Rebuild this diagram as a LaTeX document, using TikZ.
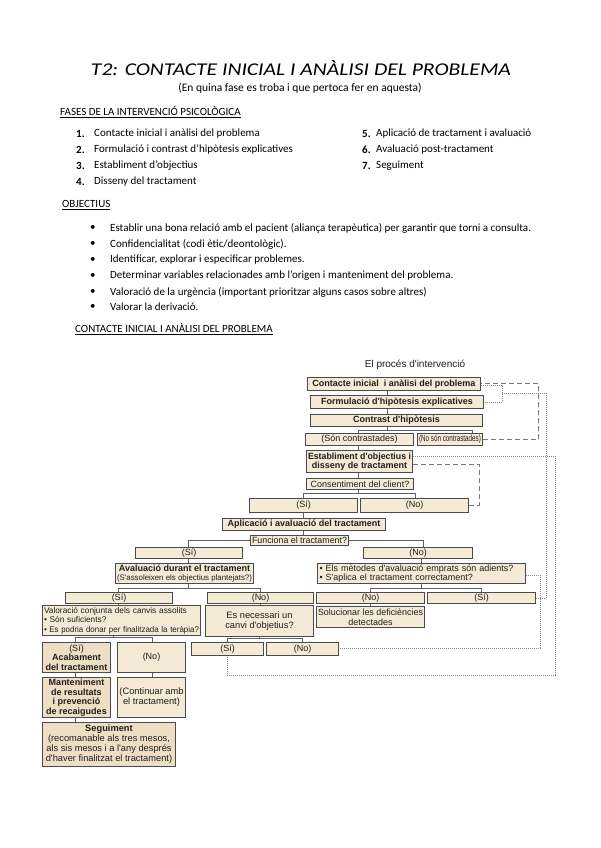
\documentclass[tikz,border=0pt]{standalone}
\usepackage{fontspec}
\setmainfont{Carlito}
\newfontfamily\diag{Liberation Sans}
\usetikzlibrary{calc}
\definecolor{boxfill}{HTML}{F4EAD6}
\definecolor{boxfillb}{HTML}{EEDFC4}
\definecolor{boxline}{HTML}{4A4A4A}
\definecolor{conn}{HTML}{606060}
\definecolor{dtxt}{HTML}{1E1E1E}
\newdimen\curbw
\newsavebox\fitbox
\newcommand{\fl}[1]{\sbox\fitbox{#1}\ifdim\wd\fitbox>\curbw\resizebox{\curbw}{\height}{\usebox\fitbox}\else\usebox\fitbox\fi}
\tikzset{
  bx/.style={draw=boxline, line width=1pt, fill=boxfill, inner sep=0pt, align=center,
    font=\diag\fontsize{9}{9.5}\selectfont, text=dtxt, anchor=north west},
  ln/.style={draw=conn, line width=0.8pt},
  dsh/.style={draw=conn!85, line width=0.8pt, dash pattern=on 5pt off 3pt},
  dtt/.style={draw=conn!75, line width=0.7pt, dash pattern=on 1pt off 1pt},
  body/.style={font=\fontsize{11}{13}\selectfont, anchor=west, inner sep=0pt},
}
\newcommand{\mybox}[7]{\curbw=\dimexpr #4pt-#2pt-3pt\relax
  \node[bx,#6, minimum width={#4-#2}, minimum height={#5-#3}] (#1) at (#2,#3) {#7};}
\begin{document}
\begin{tikzpicture}[x=1pt,y=-1pt]
\fill[white] (0,0) rectangle (600,848);
\useasboundingbox (0,0) rectangle (600,848);

% ---------- header texts ----------
\node[inner sep=0pt] (title) at (301,68) {\resizebox{420pt}{15pt}{\itshape T2: CONTACTE INICIAL I ANÀLISI DEL PROBLEMA}};
\node[inner sep=0pt, font=\fontsize{11.5}{13}\selectfont] (sub) at (300,88) {(En quina fase es troba i que pertoca fer en aquesta)};
\node[body] (fases) at (60,112) {\underline{FASES DE LA INTERVENCIÓ PSICOLÒGICA}};

\node[body] (n1) at (76,134) {\textbf{1.}}; \node[body] (t1) at (94,134) {Contacte inicial i anàlisi del problema};
\node[body] (n2) at (76,150) {\textbf{2.}}; \node[body] (t2) at (94,150) {Formulació i contrast d’hipòtesis explicatives};
\node[body] (n3) at (76,166) {\textbf{3.}}; \node[body] (t3) at (94,166) {Establiment d’objectius};
\node[body] (n4) at (76,182) {\textbf{4.}}; \node[body] (t4) at (94,182) {Disseny del tractament};
\node[body] (n5) at (362,134) {\textbf{5.}}; \node[body] (t5) at (376,134) {Aplicació de tractament i avaluació};
\node[body] (n6) at (362,150) {\textbf{6.}}; \node[body] (t6) at (376,150) {Avaluació post-tractament};
\node[body] (n7) at (362,166) {\textbf{7.}}; \node[body] (t7) at (376,166) {Seguiment};

\node[body] (obj) at (62,205) {\underline{OBJECTIUS}};
\foreach \yy/\tt [count=\i] in {228/{Establir una bona relació amb el pacient (aliança terapèutica) per garantir que torni a consulta.},
  244/{Confidencialitat (codi ètic/deontològic).},
  260/{Identificar, explorar i especificar problemes.},
  276/{Determinar variables relacionades amb l’origen i manteniment del problema.},
  292/{Valoració de la urgència (important prioritzar alguns casos sobre altres)},
  307/{Valorar la derivació.}}{
  \node[body] (b\i) at (90,\yy) {\textbullet};
  \node[body] (o\i) at (110,\yy) {\tt};
}
\node[body] (cia) at (75,329) {\underline{CONTACTE INICIAL I ANÀLISI DEL PROBLEMA}};

% ---------- diagram ----------
\node[font=\diag\fontsize{10}{11}\selectfont, text=dtxt] (dtitle) at (415,365) {El procés d'intervenció};

\mybox{contacte}{307}{377}{480}{390}{}{\fl{\textbf{Contacte inicial\ \ i anàlisi del problema}}}
\mybox{formul}{310}{395}{483}{408}{}{\fl{\textbf{Formulació d'hipòtesis explicatives}}}
\mybox{contrast}{310}{414}{482}{426}{}{\textbf{Contrast d'hipòtesis}}
\mybox{son}{305}{433}{413}{445}{}{\fl{(Són contrastades)}}
\mybox{noson}{417}{433}{482}{445}{}{\fl{(No són contrastades)}}
\mybox{establ}{306}{450}{412}{472}{}{\fl{\textbf{Establiment d'objectius i}}\\\fl{\textbf{disseny de tractament}}}
\mybox{consent}{306}{478}{413}{489}{}{\fl{Consentiment del client?}}
\mybox{csi}{249}{498}{357}{512}{}{(Sí)}
\mybox{cno}{360}{498}{468}{512}{}{(No)}
\mybox{aplic}{222}{518}{385}{530}{}{\fl{\textbf{Aplicació i avaluació del tractament}}}
\mybox{funciona}{250}{535}{348}{545}{}{\fl{Funciona el tractament?}}
\mybox{fsi}{135}{547}{242}{558}{}{(Sí)}
\mybox{fno}{363}{547}{472}{558}{}{(No)}
\mybox{avalua}{115}{563}{253}{583}{}{\fl{\textbf{Avaluació durant el tractament}}\\\fl{\fontsize{8}{8.5}\selectfont(S'assoleixen els objectius plantejats?)}}
\mybox{metodes}{317}{563}{525}{583}{align=left, text width=204pt}{\fl{• Els mètodes d'avaluació emprats són adients?}\\\fl{• S'aplica el tractament correctament?}}
\mybox{asi}{65}{592}{172}{603}{}{(Sí)}
\mybox{ano}{207}{592}{313}{603}{}{(No)}
\mybox{mno}{316}{592}{424}{603}{}{(No)}
\mybox{msi}{427}{592}{535}{603}{}{(Sí)}
\mybox{valora}{42}{605}{200}{635}{align=left, text width=155pt, font=\diag\fontsize{8.3}{9.3}\selectfont}{\fl{Valoració conjunta dels canvis assolits}\\\fl{• Són suficients?}\\\fl{• Es podria donar per finalitzada la teràpia?}}
\mybox{canvi}{205}{605}{313}{636}{font=\diag\fontsize{9.3}{10.5}\selectfont}{Es necessari un\\canvi d'objetius?}
\mybox{soluc}{316}{606}{424}{627}{}{\fl{Solucionar les deficiències}\\detectades}
\mybox{acab}{42}{642}{110}{672}{fill=boxfillb}{(Sí)\\\fl{\textbf{Acabament}}\\\fl{\textbf{del tractament}}}
\mybox{vno}{117}{642}{185}{672}{}{(No)}
\mybox{csi2}{191}{642}{263}{655}{}{(Sí)}
\mybox{cno2}{266}{642}{338}{655}{}{(No)}
\mybox{mant}{42}{677}{110}{717}{fill=boxfillb}{\fl{\textbf{Manteniment}}\\\fl{\textbf{de resultats}}\\\fl{\textbf{i prevenció}}\\\fl{\textbf{de recaigudes}}}
\mybox{contin}{117}{677}{185}{717}{font=\diag\fontsize{9.3}{10}\selectfont}{\fl{(Continuar amb}\\\fl{el tractament)}}
\mybox{segui}{42}{722}{175}{766}{fill=boxfillb, font=\diag\fontsize{9.3}{10}\selectfont}{\textbf{Seguiment}\\\fl{(recomanable als tres mesos,}\\\fl{als sis mesos i a l'any després}\\\fl{d'haver finalitzat el tractament)}}

% spine coordinates
\coordinate (xA) at (387,0);
\coordinate (xB) at (358,0);
\coordinate (xD) at (472,0);
\coordinate (xC) at (303,0);
\coordinate (xE) at (415,0);
\coordinate (xF) at (188,0);
\coordinate (xG) at (423,0);
\coordinate (xH) at (118,0);
\coordinate (xI) at (260,0);
\coordinate (xJ) at (75,0);
\coordinate (xK) at (152,0);
\coordinate (xL) at (113,0);
\coordinate (xM) at (227,0);
\coordinate (xN) at (302,0);
\coordinate (xO) at (259,0);
\coordinate (xP) at (370,0);
\coordinate (xQ) at (481,0);
\coordinate (xR) at (421,0);
\coordinate (yb1) at (0,430);
\coordinate (yb2) at (0,493);
\coordinate (yb3) at (0,588);
\coordinate (yb4) at (0,637);
\coordinate (yb5) at (0,638);

% solid connectors
\draw[ln] (contacte.south -| xA) -- (formul.north -| xA);
\draw[ln] (formul.south -| xA) -- (contrast.north -| xA);
\draw[ln] (contrast.south -| xA) -- (yb1 -| xA);
\draw[ln] (son.north -| xB) -- (yb1 -| xB) -- (yb1 -| xD) -- (noson.north -| xD);
\draw[ln] (son.south -| xB) -- (establ.north -| xB);
\draw[ln] (establ.south -| xB) -- (consent.north -| xB);
\draw[ln] (consent.south -| xB) -- (yb2 -| xB);
\draw[ln] (csi.north -| xC) -- (yb2 -| xC) -- (yb2 -| xE) -- (cno.north -| xE);
\draw[ln] (csi.south -| xC) -- (aplic.north -| xC);
\draw[ln] (aplic.south -| xC) -- (funciona.north -| xC);
\draw[ln] (funciona.west) -| (fsi.north -| xF);
\draw[ln] (funciona.east) -| (fno.north -| xG);
\draw[ln] (fsi.south -| xF) -- (avalua.north -| xF);
\draw[ln] (avalua.south -| xF) -- (yb3 -| xF);
\draw[ln] (asi.north -| xH) -- (yb3 -| xH) -- (yb3 -| xI) -- (ano.north -| xI);
\draw[ln] (asi.south -| xH) -- (valora.north -| xH);
\draw[ln] (ano.south -| xI) -- (canvi.north -| xI);
\draw[ln] (valora.south -| xL) -- (yb4 -| xL);
\draw[ln] (acab.north -| xJ) -- (yb4 -| xJ) -- (yb4 -| xK) -- (vno.north -| xK);
\draw[ln] (acab.south -| xJ) -- (mant.north -| xJ);
\draw[ln] (mant.south -| xJ) -- (segui.north -| xJ);
\draw[ln] (vno.south -| xK) -- (contin.north -| xK);
\draw[ln] (canvi.south -| xO) -- (yb5 -| xO);
\draw[ln] (csi2.north -| xM) -- (yb5 -| xM) -- (yb5 -| xN) -- (cno2.north -| xN);
\draw[ln] (fno.south -| xR) -- (metodes.north -| xR);
\draw[ln] (metodes.south -| xR) -- (yb3 -| xR);
\draw[ln] (mno.north -| xP) -- (yb3 -| xP) -- (yb3 -| xQ) -- (msi.north -| xQ);
\draw[ln] (mno.south -| xP) -- (soluc.north -| xP);

% feedback connectors
\coordinate (dA) at (538,383);
\coordinate (dB) at (502,385);
\coordinate (dB2) at (502,402);
\coordinate (dB3) at (502,393);
\coordinate (dC) at (546,393);
\coordinate (dD) at (555,456);
\coordinate (dD2) at (555,675);
\coordinate (dE) at (479,464);
\coordinate (dE2) at (479,505);
\coordinate (dF) at (540,575);
\coordinate (dF2) at (540,648);

\draw[dsh] (noson.east) -- (noson.east -| dA) -- (dA) -- (contacte.east |- dA);
\draw[dtt] (contacte.east |- dB) -- (dB) -- (dB2) -- (formul.east |- dB2);
\draw[dtt] (msi.east) -- (msi.east -| dC) -- (dC) -- (dB3);
\draw[dtt] (establ.east |- dD) -- (dD) -- (dD2) -- (dD2 -| xM) -- (csi2.south -| xM);
\draw[dsh] (establ.east |- dE) -- (dE) -- (dE2) -- (cno.east |- dE2);
\draw[dtt] (metodes.east |- dF) -- (dF) -- (dF2) -- (cno2.east |- dF2);
\end{tikzpicture}
\end{document}
